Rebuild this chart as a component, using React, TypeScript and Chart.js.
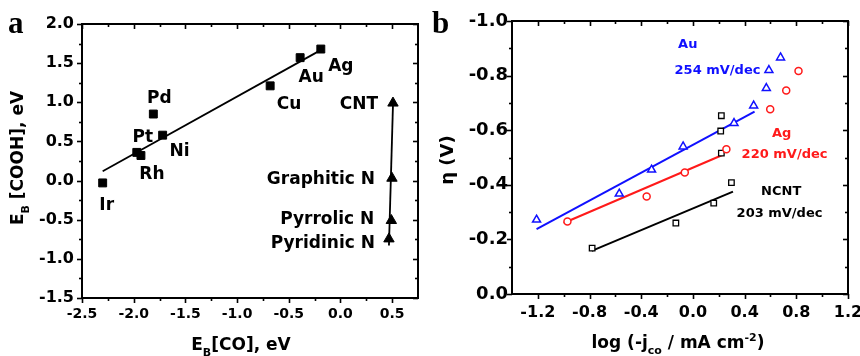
import React, { useEffect, useRef } from 'react';
import { Chart, registerables } from 'chart.js';

Chart.register(...registerables);

const FONT = '"DejaVu Sans", sans-serif';
const SERIF = '"Liberation Serif", "Times New Roman", serif';
const BLUE = '#1010ff';
const RED = '#ff1a1a';

// ---------------- Panel a data ----------------
const metalNames = ['Ir', 'Pt', 'Rh', 'Pd', 'Ni', 'Cu', 'Au', 'Ag'];
const metalCO = [-2.30, -1.97, -1.93, -1.81, -1.72, -0.68, -0.39, -0.19];
const metalCOOH = [-0.03, 0.36, 0.32, 0.85, 0.58, 1.21, 1.57, 1.68];
const metalFitCO = [-2.30, -0.20];
const metalFitCOOH = [0.12, 1.66];

const carbonNames = ['CNT', 'Graphitic N', 'Pyrrolic N', 'Pyridinic N'];
const carbonCO = [0.508, 0.498, 0.492, 0.469];
const carbonCOOH = [0.99, 0.03, -0.51, -0.745];
const carbonFitCO = [0.508, 0.469];
const carbonFitCOOH = [0.97, -0.83];

const aXTicks = [-2.5, -2.0, -1.5, -1.0, -0.5, 0.0, 0.5];
const aXMinor = [-2.25, -1.75, -1.25, -0.75, -0.25, 0.25];
const aYTicks = [-1.5, -1.0, -0.5, 0.0, 0.5, 1.0, 1.5, 2.0];
const aYMinor = [-1.25, -0.75, -0.25, 0.25, 0.75, 1.25, 1.75];

// label offsets (px) relative to their points
const metalLabelDx = [4, 6, 11, 6, 17, 19, 11, 20];
const metalLabelDy = [21, -17, 17, -17, 15, 17, 18, 16];
const carbonLabelDx = [-15, -17, -17, -14];
const carbonLabelDy = [0, 0, -3, 3];

// ---------------- Panel b data ----------------
const auLogJ = [-1.21, -0.57, -0.32, -0.076, 0.318, 0.47, 0.568, 0.588, 0.678];
const auEta = [-0.272, -0.367, -0.455, -0.54, -0.626, -0.69, -0.754, -0.82, -0.866];
const auFitLogJ = [-1.21, 0.477];
const auFitEta = [-0.238, -0.668];

const agLogJ = [-0.971, -0.358, -0.063, 0.259, 0.598, 0.722, 0.817];
const agEta = [-0.266, -0.357, -0.445, -0.53, -0.677, -0.745, -0.817];
const agFitLogJ = [-1.0, 0.233];
const agFitEta = [-0.26, -0.51];

const ncntLogJ = [-0.78, -0.132, 0.161, 0.298, 0.22, 0.215, 0.22];
const ncntEta = [-0.168, -0.26, -0.333, -0.408, -0.516, -0.597, -0.653];
const ncntFitLogJ = [-0.783, 0.31];
const ncntFitEta = [-0.158, -0.375];

const bXTicks = [-1.2, -0.8, -0.4, 0.0, 0.4, 0.8, 1.2];
const bXMinor = [-1.0, -0.6, -0.2, 0.2, 0.6, 1.0];
const bYTicks = [0.0, -0.2, -0.4, -0.6, -0.8, -1.0];
const bYMinor = [-0.1, -0.3, -0.5, -0.7, -0.9];

const bTexts = ['Au', '254 mV/dec', 'Ag', '220 mV/dec', 'NCNT', '203 mV/dec'];
const bTextX = [-0.04, 0.19, 0.686, 0.709, 0.683, 0.67];
const bTextY = [-0.918, -0.824, -0.594, -0.517, -0.379, -0.301];
const bTextColor = [BLUE, BLUE, RED, RED, '#000', '#000'];

// ---------------- helpers ----------------
const pts = (xs: number[], ys: number[]) => xs.map((x, i) => ({ x, y: ys[i] }));

type Seg = { t: string; k?: 'sub' | 'sup' };
function drawRich(ctx: CanvasRenderingContext2D, segs: Seg[], cx: number, cy: number, size: number, rotated: boolean) {
  const main = `bold ${size}px ${FONT}`;
  const small = `bold ${Math.round(size * 0.65)}px ${FONT}`;
  ctx.save();
  ctx.fillStyle = '#000';
  ctx.textAlign = 'left';
  ctx.textBaseline = 'alphabetic';
  let total = 0;
  const ws = segs.map((s) => {
    ctx.font = s.k ? small : main;
    const w = ctx.measureText(s.t).width;
    total += w;
    return w;
  });
  ctx.translate(cx, cy);
  if (rotated) ctx.rotate(-Math.PI / 2);
  let x = -total / 2;
  const base = size * 0.365;
  segs.forEach((s, i) => {
    ctx.font = s.k ? small : main;
    const dy = s.k === 'sub' ? size * 0.32 : s.k === 'sup' ? -size * 0.42 : 0;
    ctx.fillText(s.t, x, base + dy);
    x += ws[i];
  });
  ctx.restore();
}

function drawFrame(chart: any, xMaj: number[], xMin: number[], yMaj: number[], yMin: number[]) {
  const { ctx, chartArea } = chart;
  const { left, right, top, bottom } = chartArea;
  const xs = chart.scales.x;
  const ys = chart.scales.y;
  ctx.save();
  ctx.strokeStyle = '#000';
  ctx.lineWidth = 2;
  ctx.strokeRect(left, top, right - left, bottom - top);
  ctx.lineWidth = 1.6;
  const seg = (x1: number, y1: number, x2: number, y2: number) => {
    ctx.beginPath();
    ctx.moveTo(x1, y1);
    ctx.lineTo(x2, y2);
    ctx.stroke();
  };
  const xt = (v: number, len: number) => {
    const p = Math.round(xs.getPixelForValue(v)) + 0.5;
    seg(p, bottom, p, bottom + len);
    seg(p, top, p, top + len);
  };
  const yt = (v: number, len: number) => {
    const p = Math.round(ys.getPixelForValue(v)) + 0.5;
    seg(left - len, p, left, p);
    seg(right - len, p, right, p);
  };
  xMaj.forEach((v) => xt(v, 5));
  xMin.forEach((v) => xt(v, 3));
  yMaj.forEach((v) => yt(v, 5));
  yMin.forEach((v) => yt(v, 3));
  ctx.restore();
}

function axis(min: number, max: number, ticks: number[], size: number, pad: number, fit: (s: any) => void, reverse = false) {
  return {
    type: 'linear' as const,
    min,
    max,
    reverse,
    grid: { display: false, drawTicks: false },
    border: { display: false },
    afterBuildTicks: (s: any) => {
      s.ticks = ticks.map((v) => ({ value: v }));
    },
    afterFit: (s: any) => {
      fit(s);
      s.paddingLeft = 0;
      s.paddingRight = 0;
      s.paddingTop = 0;
      s.paddingBottom = 0;
    },
    ticks: {
      color: '#000',
      font: { family: FONT, weight: 'bold' as const, size },
      padding: pad,
      autoSkip: false,
      maxRotation: 0,
      minRotation: 0,
      callback: (v: any) => Number(v).toFixed(1),
    },
  };
}

function PanelA() {
  const ref = useRef<HTMLCanvasElement>(null);
  useEffect(() => {
    if (!ref.current) return;
    const plugin = {
      id: 'panelA',
      afterDraw(chart: any) {
        const ctx = chart.ctx as CanvasRenderingContext2D;
        drawFrame(chart, aXTicks, aXMinor, aYTicks, aYMinor);
        const xs = chart.scales.x;
        const ys = chart.scales.y;
        ctx.save();
        ctx.fillStyle = '#000';
        ctx.font = `bold 17px ${FONT}`;
        ctx.textBaseline = 'alphabetic';
        ctx.textAlign = 'center';
        metalNames.forEach((n, i) => {
          const px = xs.getPixelForValue(metalCO[i]) + metalLabelDx[i];
          const py = ys.getPixelForValue(metalCOOH[i]) + metalLabelDy[i];
          ctx.fillText(n, px, py + 17 * 0.365);
        });
        ctx.textAlign = 'right';
        carbonNames.forEach((n, i) => {
          const px = xs.getPixelForValue(carbonCO[i]) + carbonLabelDx[i];
          const py = ys.getPixelForValue(carbonCOOH[i]) + carbonLabelDy[i];
          ctx.fillText(n, px, py + 17 * 0.365);
        });
        ctx.textAlign = 'left';
        ctx.font = `bold 31px ${SERIF}`;
        ctx.fillText('a', 8, 33);
        ctx.restore();
        drawRich(ctx, [{ t: 'E' }, { t: 'B', k: 'sub' }, { t: ' [COOH], eV' }], 17, 158, 17, true);
        drawRich(ctx, [{ t: 'E' }, { t: 'B', k: 'sub' }, { t: '[CO], eV' }], 241, 344, 17, false);
      },
    };
    const chart = new Chart(ref.current, {
      type: 'scatter',
      data: {
        datasets: [
          {
            data: pts(metalCO, metalCOOH),
            pointStyle: 'rect',
            pointRadius: 5.6,
            backgroundColor: '#000',
            borderColor: '#000',
            borderWidth: 1,
            order: 0,
          },
          {
            data: pts(carbonCO, carbonCOOH),
            pointStyle: 'triangle',
            pointRadius: 6,
            backgroundColor: '#000',
            borderColor: '#000',
            borderWidth: 1,
            order: 0,
          },
          {
            data: pts(metalFitCO, metalFitCOOH),
            showLine: true,
            pointRadius: 0,
            borderColor: '#000',
            borderWidth: 1.8,
            order: 1,
          },
          {
            data: pts(carbonFitCO, carbonFitCOOH),
            showLine: true,
            pointRadius: 0,
            borderColor: '#000',
            borderWidth: 1.8,
            order: 1,
          },
        ],
      },
      options: {
        responsive: false,
        animation: false,
        devicePixelRatio: 1,
        layout: { padding: { left: 0, top: 24, right: 12, bottom: 0 } },
        plugins: { legend: { display: false }, tooltip: { enabled: false } },
        scales: {
          x: axis(-2.5, 0.75, aXTicks, 14, 8, (s) => { s.height = 58; }),
          y: axis(-1.5, 2.0, aYTicks, 16, 8, (s) => { s.width = 82; }),
        },
      } as any,
      plugins: [plugin],
    });
    return () => chart.destroy();
  }, []);
  return <canvas ref={ref} width={430} height={356} style={{ position: 'absolute', left: 0, top: 0, width: 430, height: 356 }} />;
}

function PanelB() {
  const ref = useRef<HTMLCanvasElement>(null);
  useEffect(() => {
    if (!ref.current) return;
    const plugin = {
      id: 'panelB',
      afterDraw(chart: any) {
        const ctx = chart.ctx as CanvasRenderingContext2D;
        drawFrame(chart, bXTicks, bXMinor, bYTicks, bYMinor);
        const xs = chart.scales.x;
        const ys = chart.scales.y;
        ctx.save();
        ctx.font = `bold 13px ${FONT}`;
        ctx.textAlign = 'center';
        ctx.textBaseline = 'alphabetic';
        bTexts.forEach((t, i) => {
          ctx.fillStyle = bTextColor[i];
          ctx.fillText(t, xs.getPixelForValue(bTextX[i]), ys.getPixelForValue(bTextY[i]) + 13 * 0.365);
        });
        ctx.fillStyle = '#000';
        ctx.textAlign = 'left';
        ctx.font = `bold 31px ${SERIF}`;
        ctx.fillText('b', 2, 33);
        ctx.restore();
        drawRich(ctx, [{ t: 'η (V)' }], 16, 160, 18, true);
        drawRich(
          ctx,
          [{ t: 'log (-j' }, { t: 'co', k: 'sub' }, { t: ' / mA cm' }, { t: '-2', k: 'sup' }, { t: ')' }],
          248,
          342,
          17,
          false
        );
      },
    };
    const marker = (xs: number[], ys: number[], style: string, r: number, color: string, bw: number) => ({
      data: pts(xs, ys),
      pointStyle: style,
      pointRadius: r,
      backgroundColor: '#fff',
      borderColor: color,
      borderWidth: bw,
      order: 0,
    });
    const fit = (xs: number[], ys: number[], color: string) => ({
      data: pts(xs, ys),
      showLine: true,
      pointRadius: 0,
      borderColor: color,
      borderWidth: 2,
      order: 1,
    });
    const chart = new Chart(ref.current, {
      type: 'scatter',
      data: {
        datasets: [
          marker(auLogJ, auEta, 'triangle', 4.6, BLUE, 1.5),
          marker(agLogJ, agEta, 'circle', 3.5, RED, 1.5),
          marker(ncntLogJ, ncntEta, 'rect', 3.9, '#000', 1.3),
          fit(auFitLogJ, auFitEta, BLUE),
          fit(agFitLogJ, agFitEta, RED),
          fit(ncntFitLogJ, ncntFitEta, '#000'),
        ],
      },
      options: {
        responsive: false,
        animation: false,
        devicePixelRatio: 1,
        layout: { padding: { left: 0, top: 21, right: 12, bottom: 0 } },
        plugins: { legend: { display: false }, tooltip: { enabled: false } },
        scales: {
          x: axis(-1.4, 1.2, bXTicks, 16, 9, (s) => { s.height = 62; }),
          y: axis(-1.0, 0.0, bYTicks, 18, 4, (s) => { s.width = 82; }, true),
        },
      } as any,
      plugins: [plugin],
    });
    return () => chart.destroy();
  }, []);
  return <canvas ref={ref} width={430} height={356} style={{ position: 'absolute', left: 430, top: 0, width: 430, height: 356 }} />;
}

export default function App() {
  return (
    <div style={{ position: 'absolute', left: 0, top: 0, width: 860, height: 356, background: '#fff' }}>
      <PanelA />
      <PanelB />
    </div>
  );
}
